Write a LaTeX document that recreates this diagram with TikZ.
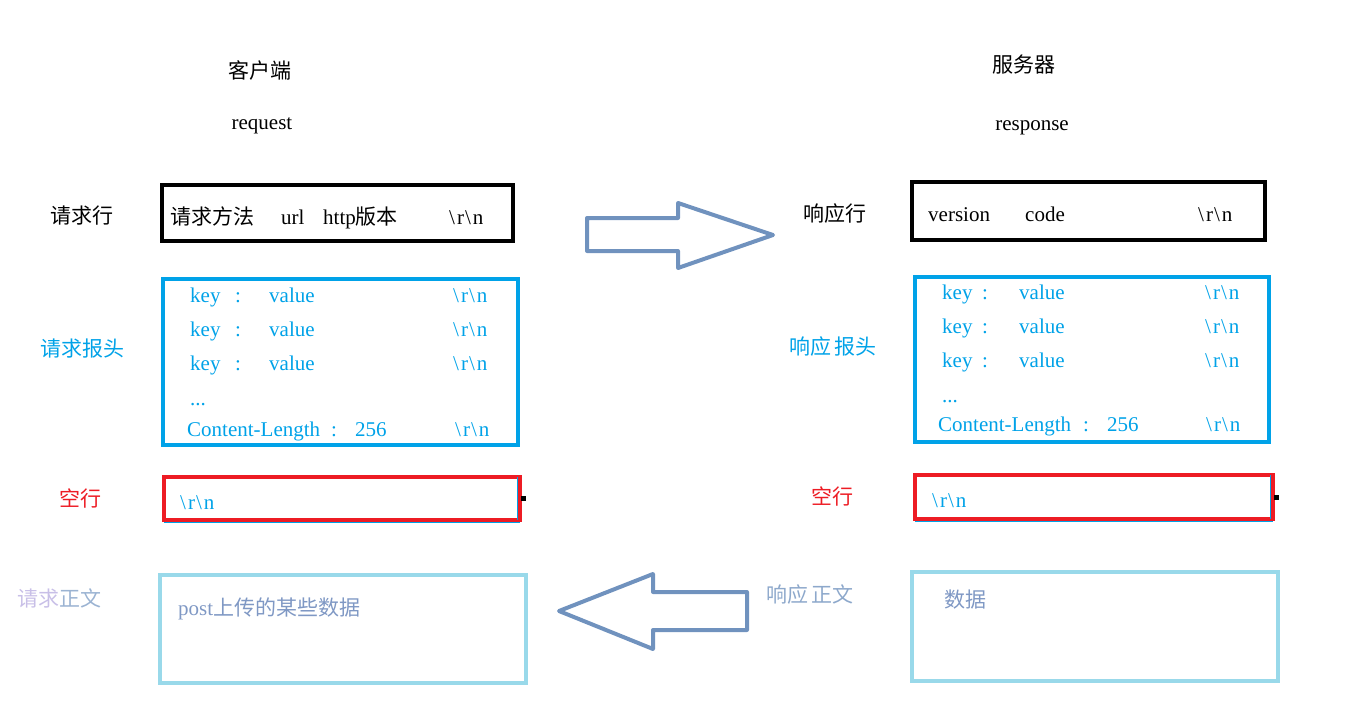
\documentclass[tikz,border=0pt]{standalone}
\usepackage{fontspec}
\setmainfont{Liberation Serif}
\newfontfamily\cjk{Noto Sans CJK SC}
\newcommand{\zhtxt}[1]{{\cjk #1}}
\newcommand{\crlf}{\textbackslash\kern2pt r\kern1pt\textbackslash\kern2pt n}
\definecolor{hdrBlue}{HTML}{00A2E8}
\definecolor{blankRed}{HTML}{ED1C24}
\definecolor{bodyBlue}{HTML}{99D9EA}
\definecolor{arrowBlue}{HTML}{7092BE}
\definecolor{softLilac}{HTML}{C8BFE7}
\definecolor{bodyText}{HTML}{7F98C4}

\begin{document}
\begin{tikzpicture}[x=1pt, y=-1pt,
  every node/.style={font=\fontsize{21}{25}\selectfont, inner sep=0pt},
  msgbox/.style={rectangle, draw=#1, line width=4pt, inner sep=0pt, outer sep=0pt},
  txt/.style={anchor=base west},
  tag/.style={anchor=center},
  grip/.style={rectangle, fill=black, minimum size=5pt, inner sep=0pt},
  blockarrow/.style={draw=arrowBlue, line width=4pt, line join=round}]

  \useasboundingbox (0,0) rectangle (1347,704);

  % ---- Titles ----
  \node[tag] (client)   at (260,70)  {\zhtxt{客户端}};
  \node[tag] (request)  at (262,126) {request};
  \node[tag] (server)   at (1024,65) {\zhtxt{服务器}};
  \node[tag] (response) at (1032,128) {response};

  % ---- Request side ----
  \node[msgbox=black,     minimum width=351pt, minimum height=56pt]  (reqline)  at (337.5,213) {};
  \node[msgbox=hdrBlue,   minimum width=355pt, minimum height=166pt] (reqhead)  at (340.5,362) {};
  \node[msgbox=blankRed,  minimum width=356pt, minimum height=43pt]  (reqblank) at (342,498.5) {};
  \node[msgbox=bodyBlue,  minimum width=366pt, minimum height=108pt] (reqbody)  at (343,629) {};

  \node[tag] (reqlinetag)  at (82,216)  {\zhtxt{请求行}};
  \node[tag, text=hdrBlue] (reqheadtag) at (82,349) {\zhtxt{请求报头}};
  \node[tag, text=blankRed] (reqblanktag) at (80,498) {\zhtxt{空行}};
  \node[tag] (reqbodytag) at (59,598) {\zhtxt{\textcolor{softLilac}{请求}\textcolor{arrowBlue!70}{正文}}};

  \node[txt] (rqmethod) at (170,224) {\zhtxt{请求方法}};
  \node[txt] (rqurl)    at (281,224) {url};
  \node[txt] (rqver)    at (323,224) {http\zhtxt{版本}};
  \node[txt] (rqcrlf)   at (449,224) {\crlf};

  \foreach \y [count=\i] in {302,336,370} {
    \node[txt, text=hdrBlue] (rqkey\i)  at (190,\y) {key};
    \node[txt, text=hdrBlue] (rqcol\i)  at (235,\y) {:};
    \node[txt, text=hdrBlue] (rqval\i)  at (269,\y) {value};
    \node[txt, text=hdrBlue] (rqend\i)  at (453,\y) {\crlf};
  }
  \node[txt, text=hdrBlue] (rqdots) at (190,405) {...};
  \node[txt, text=hdrBlue] (rqlen)  at (187,436) {Content-Length};
  \node[txt, text=hdrBlue] (rqlcol) at (331,436) {:};
  \node[txt, text=hdrBlue] (rqlval) at (355,436) {256};
  \node[txt, text=hdrBlue] (rqlend) at (455,436) {\crlf};

  \node[txt, text=hdrBlue] (rqblank) at (180,509) {\crlf};
  \draw[hdrBlue, line width=1pt] ([yshift=-2.5pt]reqblank.south west) -- ([yshift=-2.5pt]reqblank.south east);
  \draw[hdrBlue, line width=1pt] ([xshift=-2.5pt]reqblank.north east) -- ([xshift=-2.5pt]reqblank.south east);
  \node[grip] (reqgrip) at ([xshift=3.5pt]reqblank.east) {};

  \node[txt, text=bodyText] (rqdata) at (178,615) {post\zhtxt{上传的某些数据}};

  % ---- Response side ----
  \node[msgbox=black,     minimum width=353pt, minimum height=58pt]  (resline)  at (1088.5,211) {};
  \node[msgbox=hdrBlue,   minimum width=354pt, minimum height=165pt] (reshead)  at (1092,359.5) {};
  \node[msgbox=blankRed,  minimum width=358pt, minimum height=44pt]  (resblank) at (1094,497) {};
  \node[msgbox=bodyBlue,  minimum width=366pt, minimum height=109pt] (resbody)  at (1095,626.5) {};

  \node[tag] (reslinetag) at (835,214) {\zhtxt{响应行}};
  \node[tag, text=hdrBlue] (resheadtag) at (833,347) {\zhtxt{响应\hspace{4pt}报头}};
  \node[tag, text=blankRed] (resblanktag) at (832,496) {\zhtxt{空行}};
  \node[tag, text=arrowBlue!80] (resbodytag) at (810,595) {\zhtxt{响应\hspace{4pt}正文}};

  \node[txt] (rsver)  at (928,221)  {version};
  \node[txt] (rscode) at (1025,221) {code};
  \node[txt] (rscrlf) at (1198,221) {\crlf};

  \foreach \y [count=\i] in {299,333,367} {
    \node[txt, text=hdrBlue] (rskey\i)  at (942,\y)  {key};
    \node[txt, text=hdrBlue] (rscol\i)  at (982,\y)  {:};
    \node[txt, text=hdrBlue] (rsval\i)  at (1019,\y) {value};
    \node[txt, text=hdrBlue] (rsend\i)  at (1205,\y) {\crlf};
  }
  \node[txt, text=hdrBlue] (rsdots) at (942,402)  {...};
  \node[txt, text=hdrBlue] (rslen)  at (938,431)  {Content-Length};
  \node[txt, text=hdrBlue] (rslcol) at (1083,431) {:};
  \node[txt, text=hdrBlue] (rslval) at (1107,431) {256};
  \node[txt, text=hdrBlue] (rslend) at (1206,431) {\crlf};

  \node[txt, text=hdrBlue] (rsblank) at (932,507) {\crlf};
  \draw[hdrBlue, line width=1pt] ([yshift=-2.5pt]resblank.south west) -- ([yshift=-2.5pt]resblank.south east);
  \draw[hdrBlue, line width=1pt] ([xshift=-2.5pt]resblank.north east) -- ([xshift=-2.5pt]resblank.south east);
  \node[grip] (resgrip) at ([xshift=3.5pt]resblank.east) {};

  \node[txt, text=bodyText] (rsdata) at (944,607) {\zhtxt{数据}};

  % ---- Block arrows ----
  \draw[blockarrow] (587,218) -- (678,218) -- (678,203) -- (773,235)
    -- (678,268) -- (678,251) -- (587,251) -- cycle;
  \draw[blockarrow] (747,592) -- (653,592) -- (653,574) -- (559,611)
    -- (653,649) -- (653,630) -- (747,630) -- cycle;

\end{tikzpicture}
\end{document}
